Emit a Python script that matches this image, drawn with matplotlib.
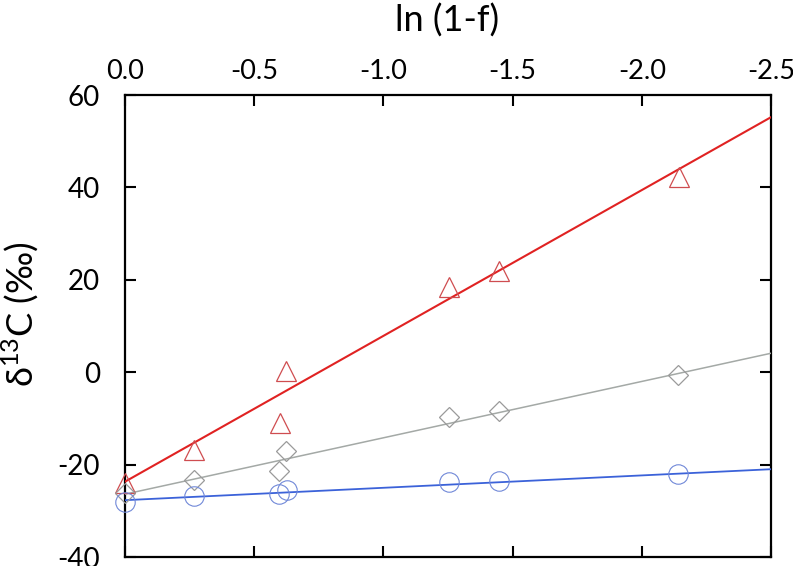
import matplotlib
matplotlib.use("Agg")
import matplotlib.pyplot as plt
import numpy as np

plt.rcParams['font.family'] = ['Lato', 'DejaVu Sans']

# data: x = ln(1-f)
x_tri = [0.0, -0.268, -0.600, -0.623, -1.255, -1.449, -2.144]
y_tri = [-24.0, -16.8, -10.9, 0.3, 18.5, 22.0, 42.3]

x_dia = [0.0, -0.268, -0.597, -0.623, -1.254, -1.447, -2.141]
y_dia = [-26.2, -23.3, -21.4, -17.0, -9.8, -8.3, -0.6]

x_cir = [0.0, -0.268, -0.597, -0.625, -1.254, -1.447, -2.141]
y_cir = [-28.0, -26.8, -26.4, -25.6, -23.8, -23.5, -22.1]

# regression lines (value at x=0, value at x=-2.5)
fit_x = [0.0, -2.5]
fit_tri = [-23.7, 55.2]
fit_dia = [-26.4, 4.1]
fit_cir = [-27.7, -21.0]

xticks = [0.0, -0.5, -1.0, -1.5, -2.0, -2.5]
yticks = [-40, -20, 0, 20, 40, 60]

fig = plt.figure(figsize=(7.93, 5.66), dpi=100)
ax = fig.add_axes([125/793, 1 - 557/566, (771-125)/793, (557-95)/566])

ax.plot(fit_x, fit_tri, color='#e02222', lw=1.5, zorder=3)
ax.plot(fit_x, fit_dia, color='#a4a9a6', lw=1.1, zorder=3)
ax.plot(fit_x, fit_cir, color='#3b62d9', lw=1.3, zorder=3)

ax.plot(x_tri, y_tri, linestyle='none', marker='^', ms=14, mfc='none',
        mec='#cf4d50', mew=0.9, zorder=4, clip_on=False)
ax.plot(x_dia, y_dia, linestyle='none', marker='D', ms=10, mfc='none',
        mec='#9a9a9a', mew=0.9, zorder=4, clip_on=False)
ax.plot(x_cir, y_cir, linestyle='none', marker='o', ms=14, mfc='none',
        mec='#7088d8', mew=0.8, zorder=4, clip_on=False)

ax.set_xlim(0, -2.5)
ax.set_ylim(-40, 60)
ax.set_xticks(xticks)
ax.set_xticklabels([f"{v:.1f}" for v in xticks])
ax.set_yticks(yticks)
ax.set_yticklabels([str(v) for v in yticks])

ax.xaxis.set_ticks_position('both')
ax.yaxis.set_ticks_position('both')
ax.tick_params(axis='x', which='both', top=True, bottom=True,
               labeltop=True, labelbottom=False)
ax.tick_params(direction='in', length=8, width=1.5, labelsize=20)
ax.tick_params(axis='x', pad=8, labelsize=19.5)
ax.tick_params(axis='y', pad=18)
for s in ax.spines.values():
    s.set_linewidth(1.6)

fig.text(447/793, 1 - 21/566, 'ln (1-f)', fontsize=26, ha='center', va='center')
fig.text(20/793, 1 - 314/566, r'δ$^{\mathregular{13}}$C (‰)', fontsize=26,
         rotation=90, ha='center', va='center')

fig.savefig('out.png', dpi=100)
